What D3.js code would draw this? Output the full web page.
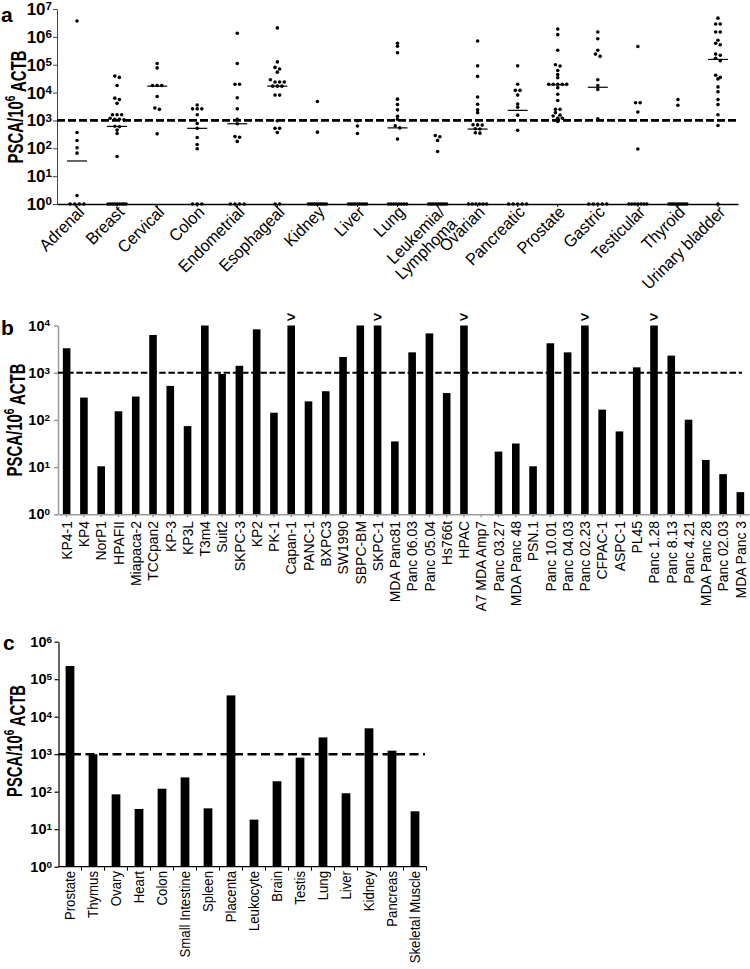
<!DOCTYPE html>
<html><head><meta charset="utf-8">
<script src="https://cdn.jsdelivr.net/npm/d3@7"></script>
<style>body{margin:0;background:#fff} svg{display:block}</style>
</head><body>
<svg id="chart" width="750" height="969"></svg>
<script>
const FONT = "'Liberation Sans', Arial, Helvetica, sans-serif";

// ---------------- Panel a data ----------------
const aCategories = ["Adrenal","Breast","Cervical","Colon","Endometrial","Esophageal","Kidney","Liver","Lung",
  "Leukemia/\nLymphoma","Ovarian","Pancreatic","Prostate","Gastric","Testicular","Thyroid","Urinary bladder"];
const aValues = [
  [3.7e6, 370, 190, 105, 67, 2, 1, 1, 1, 1],
  [3.9e4, 3.5e4, 1.8e4, 6.3e3, 5.6e3, 4.1e3, 1.6e3, 1.6e3, 1.6e3, 1.2e3, 1.1e3, 1.1e3, 1.05e3, 620, 590, 450, 340, 51, 1, 1, 1, 1, 1, 1, 1, 1, 1],
  [1.1e5, 7.7e4, 1.8e4, 1.8e4, 1.8e4, 7.2e3, 2.8e3, 2.5e3, 330],
  [3.6e3, 2.6e3, 2.6e3, 2.6e3, 1.6e3, 780, 520, 245, 137, 96, 1, 1, 1],
  [1.35e6, 1.1e5, 2e4, 2e4, 6.5e3, 2.6e3, 1.1e3, 760, 263, 250, 177, 1, 1, 1, 1],
  [2.1e6, 1.26e5, 8e4, 7e4, 5.4e4, 2.9e4, 2.4e4, 2.4e4, 2.4e4, 1.7e4, 1.7e4, 1.7e4, 8.1e3, 8.1e3, 970, 520, 520, 370, 1, 1],
  [4.8e3, 380, 1, 1, 1, 1, 1, 1, 1, 1, 1, 1],
  [970, 630, 340, 1, 1, 1, 1, 1, 1, 1, 1, 1],
  [5.9e5, 4.6e5, 2.7e5, 5.8e3, 3.7e3, 2.4e3, 1.4e3, 1.1e3, 640, 540, 214, 1, 1, 1, 1, 1, 1, 1, 1],
  [285, 260, 192, 77, 1, 1, 1, 1, 1, 1, 1, 1, 1, 1],
  [7.1e5, 9.1e4, 3.8e4, 6.9e3, 3.8e3, 2.4e3, 1.9e3, 700, 690, 680, 500, 490, 360, 350, 1, 1, 1, 1, 1, 1],
  [9.1e4, 2e4, 1.2e4, 1.2e4, 8.1e3, 3.9e3, 3e3, 1.55e3, 440, 1, 1, 1, 1, 1],
  [1.9e6, 1.2e6, 3.3e5, 1e5, 9e4, 6.2e4, 4.4e4, 3.4e4, 2e4, 2e4, 2e4, 2e4, 2e4, 1.5e4, 8.7e3, 5.2e3, 2.5e3, 2.5e3, 1.9e3, 1.55e3, 1.45e3, 1.2e3, 1.2e3, 920],
  [1.5e6, 8.5e5, 3.3e5, 2.4e5, 2e5, 2.9e4, 1.8e4, 1.3e4, 1.15e3, 1, 1, 1, 1, 1],
  [4.5e5, 4.3e3, 4.3e3, 2e3, 94, 1, 1, 1, 1, 1, 1, 1],
  [5.6e3, 3.5e3, 1, 1, 1, 1, 1, 1, 1, 1, 1, 1],
  [4.7e6, 2.9e6, 2.9e6, 1.5e6, 1.5e6, 7.6e5, 5.9e5, 5.2e5, 2.4e5, 2.2e5, 1.7e5, 1.4e5, 4.2e4, 3.5e4, 3.1e4, 1.6e4, 1.07e4, 5.6e3, 3.7e3, 1.6e3, 660, 1]
];
const aMedians = [35, 610, 1.7e4, 520, 760, 1.7e4, null, null, 540, null, 490, 2300, 1.9e4, 1.55e4, null, null, 1.55e5];
const aTickExps = [0, 1, 2, 3, 4, 5, 6, 7];

// ---------------- Panel b data ----------------
const bCategories = ["KP4-1","KP4","NorP1","HPAFII","Miapaca-2","TCCpan2","KP-3","KP3L","T3m4","Suit2","SKPC-3","KP2","PK-1",
  "Capan-1","PANC-1","BXPC3","SW1990","SBPC-BM","SKPC-1","MDA Panc81","Panc 06.03","Panc 05.04","Hs766t","HPAC",
  "A7 MDA Amp7","Panc 03.27","MDA Panc 48","PSN.1","Panc 10.01","Panc 04.03","Panc 02.23","CFPAC-1","ASPC-1","PL45",
  "Panc 1.28","Panc 8.13","Panc 4.21","MDA Panc 28","Panc 02.03","MDA Panc 3"];
const bValues = [3.3e3, 297, 10.4, 152, 312, 6.3e3, 525, 74, 1e4, 940, 1.4e3, 8.3e3, 142,
  1e4, 247, 405, 2.15e3, 1e4, 1e4, 35, 2.7e3, 6.8e3, 370, 1e4,
  1, 21.3, 31.6, 10.4, 4.2e3, 2.7e3, 1e4, 165, 57, 1.3e3,
  1e4, 2.3e3, 101, 14.2, 7.1, 2.95];
const bOffScale = ["Capan-1","SKPC-1","HPAC","Panc 02.23","Panc 1.28"];
const bTickExps = [0, 1, 2, 3, 4];

// ---------------- Panel c data ----------------
const cCategories = ["Prostate","Thymus","Ovary","Heart","Colon","Small Intestine","Spleen","Placenta","Leukocyte",
  "Brain","Testis","Lung","Liver","Kidney","Pancreas","Skeletal Muscle"];
const cValues = [2.25e5, 1.0e3, 85, 34.6, 120, 240, 36, 3.7e4, 18, 190, 810, 2.8e3, 91, 4.9e3, 1.24e3, 30];
const cTickExps = [0, 1, 2, 3, 4, 5, 6];

const THRESHOLD = 1e3;

const svg = d3.select("#chart").style("font-family", FONT);

function styleYTicks(g, fontSize) {
  g.selectAll(".tick text")
    .attr("font-family", FONT).attr("font-weight", "bold").attr("font-size", fontSize)
    .attr("fill", "#000")
    .each(function(d) {
      const t = d3.select(this);
      t.text("10");
      t.append("tspan").attr("dy", "-0.42em").attr("font-size", (fontSize * 0.68).toFixed(1)).text(Math.round(Math.log10(d)));
    });
}

function yTitle(cx, cy, targetLen) {
  const t = svg.append("text")
    .attr("font-family", FONT).attr("font-weight", "bold").attr("font-size", 22)
    .attr("text-anchor", "middle").attr("dy", "0.36em");
  t.append("tspan").text("PSCA/10");
  t.append("tspan").attr("dy", "-0.5em").attr("font-size", 15).text("6");
  t.append("tspan").attr("dy", "0.5em").text(" ACTB");
  const w = t.node().getComputedTextLength();
  t.attr("transform", `translate(${cx},${cy}) rotate(-90) scale(${targetLen / w},1)`);
}

function panelLabel(txt, x, y) {
  svg.append("text").attr("x", x).attr("y", y).attr("font-family", FONT)
    .attr("font-weight", "bold").attr("font-size", 21).text(txt);
}

// ================= Panel a =================
{
  const x = d3.scaleBand().domain(aCategories).range([57, 738]);
  const y = d3.scaleLog().domain([1, 1e7]).range([204, 9]);
  const g = svg.append("g");

  const yAx = g.append("g").attr("transform", "translate(57,0)")
    .call(d3.axisLeft(y).tickValues(aTickExps.map(e => 10 ** e)).tickSize(4).tickSizeOuter(0).tickPadding(1).tickFormat(() => "10"));
  yAx.selectAll("path,line").attr("stroke", "#444").attr("stroke-width", 1);
  styleYTicks(yAx, 17);

  const xAx = g.append("g").attr("transform", "translate(0,204)")
    .call(d3.axisBottom(x).tickSize(3).tickSizeOuter(0).tickFormat(""));
  xAx.select(".domain").attr("stroke", "#000").attr("stroke-width", 1.3);
  xAx.selectAll(".tick line").attr("stroke", "#000");

  g.append("line").attr("x1", 57).attr("x2", 738).attr("y1", y(THRESHOLD)).attr("y2", y(THRESHOLD))
    .attr("stroke", "#000").attr("stroke-width", 2.7).attr("stroke-dasharray", "8,3");

  function swarm(vals) {
    const pts = vals.map(v => ({ v, py: y(v) })).sort((a, b) => a.py - b.py);
    const clusters = [];
    pts.forEach(p => {
      const c = clusters[clusters.length - 1];
      if (c && Math.abs(p.py - c[0].py) < 2.6) c.push(p); else clusters.push([p]);
    });
    clusters.forEach(c => {
      const n = c.length, s = n > 1 ? Math.min(4.6, 18 / (n - 1)) : 0;
      c.forEach((p, i) => p.dx = (i - (n - 1) / 2) * s);
    });
    return pts;
  }
  aCategories.forEach((cat, i) => {
    const cx = x(cat) + x.bandwidth() / 2;
    g.append("g").selectAll("circle").data(swarm(aValues[i])).join("circle")
      .attr("cx", d => cx + d.dx).attr("cy", d => d.py).attr("r", 1.8).attr("fill", "#000");
    if (aMedians[i] != null) {
      g.append("line").attr("x1", cx - 10).attr("x2", cx + 10)
        .attr("y1", y(aMedians[i])).attr("y2", y(aMedians[i]))
        .attr("stroke", "#000").attr("stroke-width", 1.2);
    }
    const lines = cat.split("\n");
    const t = g.append("text").attr("transform", `translate(${cx + 4},209) rotate(-45) scale(0.94,1)`)
      .attr("text-anchor", "end").attr("font-family", FONT).attr("font-size", 17).attr("fill", "#000");
    lines.forEach((ln, k) => t.append("tspan").attr("x", 0).attr("dy", k === 0 ? "0.35em" : "1.0em").text(ln));
  });

  yTitle(15, 107, 113);
  panelLabel("a", 1, 22);
}

// ================= Panel b =================
{
  const x = d3.scaleBand().domain(bCategories).range([58, 749]).paddingInner(0.56).paddingOuter(0.28);
  const y = d3.scaleLog().domain([1, 1e4]).range([514.3, 325.5]);
  const g = svg.append("g");
  const grey = "#9a9a9a";

  g.selectAll("rect").data(bCategories).join("rect")
    .attr("x", d => x(d)).attr("width", x.bandwidth())
    .attr("y", (d, i) => y(bValues[i])).attr("height", (d, i) => y(1) - y(bValues[i]))
    .attr("fill", "#000");

  const yAx = g.append("g").attr("transform", "translate(58,0)")
    .call(d3.axisLeft(y).tickValues(bTickExps.map(e => 10 ** e)).tickSize(4).tickSizeOuter(0).tickPadding(4).tickFormat(() => "10"));
  yAx.selectAll("path,line").attr("stroke", grey).attr("stroke-width", 1.5);
  styleYTicks(yAx, 14.5);

  const xAx = g.append("g").attr("transform", "translate(0,514.3)")
    .call(d3.axisBottom(x).tickSize(3).tickSizeOuter(0).tickFormat(""));
  xAx.selectAll("path,line").attr("stroke", grey).attr("stroke-width", 1.5);

  g.append("line").attr("x1", 58).attr("x2", 742).attr("y1", y(THRESHOLD)).attr("y2", y(THRESHOLD))
    .attr("stroke", "#000").attr("stroke-width", 2).attr("stroke-dasharray", "6.5,2.7");

  g.selectAll("text.off").data(bOffScale).join("text").attr("class", "off")
    .attr("x", d => x(d) + x.bandwidth() / 2).attr("y", y(1e4) - 4)
    .attr("text-anchor", "middle").attr("font-family", FONT).attr("font-size", 15).attr("font-weight", "bold").text(">");

  g.selectAll("text.lab").data(bCategories).join("text").attr("class", "lab")
    .attr("transform", d => `translate(${x(d) + x.bandwidth() / 2},521) rotate(-90) scale(0.93,1)`)
    .attr("text-anchor", "end").attr("dy", "0.35em")
    .attr("font-family", FONT).attr("font-size", 15).text(d => d);

  yTitle(14, 420, 113);
  panelLabel("b", 1, 335);
}

// ================= Panel c =================
{
  const x = d3.scaleBand().domain(cCategories).range([58.5, 426.5]).paddingInner(0.62).paddingOuter(0.31);
  const y = d3.scaleLog().domain([1, 1e6]).range([866.7, 641.7]);
  const g = svg.append("g");

  g.selectAll("rect").data(cCategories).join("rect")
    .attr("x", d => x(d)).attr("width", x.bandwidth())
    .attr("y", (d, i) => y(cValues[i])).attr("height", (d, i) => y(1) - y(cValues[i]))
    .attr("fill", "#000");

  const yAx = g.append("g").attr("transform", "translate(58.5,0)")
    .call(d3.axisLeft(y).tickValues(cTickExps.map(e => 10 ** e)).tickSize(4).tickSizeOuter(0).tickPadding(2.5).tickFormat(() => "10"));
  yAx.selectAll("path,line").attr("stroke", "#000").attr("stroke-width", 1.2);
  styleYTicks(yAx, 14.5);

  g.append("line").attr("x1", 58.5).attr("x2", 426.5).attr("y1", y(1)).attr("y2", y(1))
    .attr("stroke", "#000").attr("stroke-width", 1.2);
  const bounds = cCategories.map(d => x(d) + x.bandwidth() / 2 - x.step() / 2).concat([x.range()[1]]);
  g.selectAll("line.bt").data(bounds.slice(1)).join("line").attr("class", "bt")
    .attr("x1", d => d).attr("x2", d => d).attr("y1", y(1)).attr("y2", y(1) + 4)
    .attr("stroke", "#000").attr("stroke-width", 1);

  g.append("line").attr("x1", 58.5).attr("x2", 425).attr("y1", y(THRESHOLD)).attr("y2", y(THRESHOLD))
    .attr("stroke", "#000").attr("stroke-width", 2.6).attr("stroke-dasharray", "9,4.5");

  g.selectAll("text.lab").data(cCategories).join("text").attr("class", "lab")
    .attr("transform", d => `translate(${x(d) + x.bandwidth() / 2},871) rotate(-90) scale(0.88,1)`)
    .attr("text-anchor", "end").attr("dy", "0.35em")
    .attr("font-family", FONT).attr("font-size", 15).text(d => d);

  yTitle(14, 741, 112);
  panelLabel("c", 3, 650);
}
</script>
</body></html>
